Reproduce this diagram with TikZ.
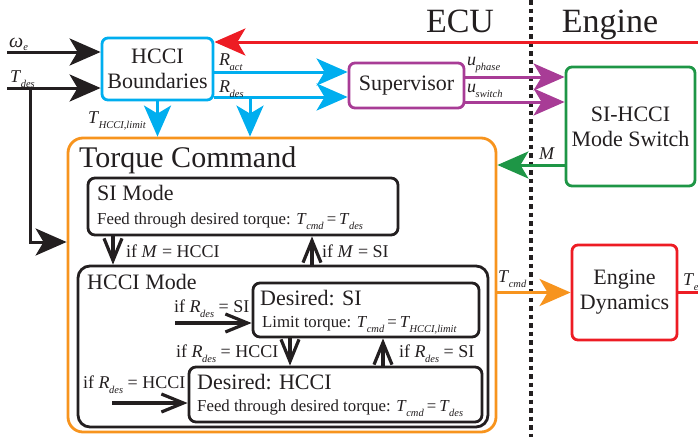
\documentclass[tikz,border=0pt]{standalone}
\usepackage{fontspec}
\setmainfont{Liberation Serif}
\usetikzlibrary{arrows.meta}
\definecolor{ccyan}{RGB}{0,174,239}
\definecolor{cred}{RGB}{237,28,36}
\definecolor{cpurp}{RGB}{168,60,150}
\definecolor{cgreen}{RGB}{30,150,70}
\definecolor{corange}{RGB}{247,148,30}
\definecolor{cblk}{RGB}{35,31,32}
\newcommand\ms[2]{\textit{#1}\kern-0.5pt\raisebox{-5pt}{\fontsize{10.5}{10.5}\selectfont\textit{#2}}}
\newcommand\eqs{\kern3pt=\kern3pt}
\begin{document}
\begin{tikzpicture}[x=1pt,y=-1pt,
  blockbox/.style={draw, line width=2.8pt, rounded corners=6pt, align=center, inner sep=0pt, font=\fontsize{22}{25}\selectfont, text=cblk},
  statebox/.style={draw=cblk, line width=2.8pt, rounded corners=7pt, inner sep=0pt},
  fat/.style={line width=3pt, -{Stealth[length=31pt,width=27pt,inset=8pt]}},
  openarr/.style={draw=cblk, line width=3.2pt, -{Straight Barb[length=22pt,width=18pt]}},
  lbl/.style={anchor=base west, inner sep=0pt, font=\fontsize{18}{18}\selectfont, text=cblk},
  hdr/.style={anchor=base west, inner sep=0pt, font=\fontsize{22}{22}\selectfont, text=cblk},
  dsc/.style={anchor=base west, inner sep=0pt, font=\fontsize{16.8}{17}\selectfont, text=cblk}]
\useasboundingbox (0,0) rectangle (698,437);

% region divider
\coordinate (dtop) at (531,0);
\coordinate (dbot) at (531,437);
\draw[cblk, line width=3.5pt, dash pattern=on 4.5pt off 4pt] (dtop) -- (dbot);
\node[anchor=base, inner sep=0pt, font=\fontsize{34}{34}\selectfont, text=cblk] (ecu) at (460,32) {ECU};
\node[anchor=base, inner sep=0pt, font=\fontsize{34}{34}\selectfont, text=cblk] (eng) at (610,32) {Engine};

% blocks
\node[blockbox, draw=ccyan, minimum width=111pt, minimum height=62pt] (hb) at (157.5,69) {HCCI\\Boundaries};
\node[blockbox, draw=cpurp, minimum width=115pt, minimum height=45pt] (sv) at (406.5,85.5) {Supervisor};
\node[blockbox, draw=cgreen, minimum width=129pt, minimum height=119pt] (sw) at (630.5,126.5) {SI-HCCI\\Mode Switch};
\node[blockbox, draw=cred, minimum width=105pt, minimum height=95pt] (ed) at (624.5,292.5) {Engine\\Dynamics};

% torque command container
\node[draw=corange, line width=2.8pt, rounded corners=15pt, minimum width=428pt, minimum height=294pt, inner sep=0pt] (tc) at (282,285) {};
\node[anchor=base west, inner sep=0pt, font=\fontsize{30}{30}\selectfont, text=cblk] (tct) at (79,167) {Torque Command};

\node[statebox, minimum width=310pt, minimum height=57pt] (si) at (243,206.5) {};
\node[hdr] (sit) at (97,200) {SI Mode};
\node[dsc] (sid) at (97,224) {Feed through desired torque: \ms{T}{cmd}\eqs\ms{T}{des}};

\node[statebox, minimum width=410pt, minimum height=161pt, rounded corners=12pt] (hm) at (283,346.5) {};
\node[hdr] (hmt) at (87,289) {HCCI Mode};

\node[statebox, minimum width=226pt, minimum height=54pt] (ds) at (366,310) {};
\node[hdr] (dst) at (260,305) {Desired: SI};
\node[dsc] (dsd) at (262,327) {Limit torque: \ms{T}{cmd}\eqs\ms{T}{HCCI,limit}};

\node[statebox, minimum width=293pt, minimum height=55pt] (dh) at (335.5,394.5) {};
\node[hdr] (dht) at (197,389) {Desired: HCCI};
\node[dsc] (dhd) at (197,411) {Feed through desired torque: \ms{T}{cmd}\eqs\ms{T}{des}};

% inputs
\coordinate (win) at (7,52);
\coordinate (tin) at (7,88);
\coordinate (tj) at (30,88);
\draw[fat, color=cblk] (win) -- (win -| hb.west);
\draw[fat, color=cblk] (tin) -- (tin -| hb.west);
\draw[fat, color=cblk] (tj) |- (tc.west |- 0,242);
\node[lbl, font=\fontsize{20}{20}\selectfont] (lwe) at (9,47) {\textit{ω}\raisebox{-3pt}{\fontsize{10.5}{10.5}\selectfont\textit{e}}};
\node[lbl] (ltd) at (10,82) {\ms{T}{des}};

% red feedback
\coordinate (rin) at (698,42);
\draw[fat, color=cred] (rin) -- (rin -| hb.east);

% cyan
\coordinate (rd) at (250,97);
\draw[fat, color=ccyan] (hb.east |- 0,72) -- (sv.west |- 0,72);
\draw[fat, color=ccyan] (hb.east |- 0,97) -- (sv.west |- 0,97);
\draw[fat, color=ccyan] (hb.south) -- (hb.south |- tc.north);
\draw[fat, color=ccyan] (rd) -- (rd |- tc.north);
\node[lbl] (lra) at (219,65) {\ms{R}{act}};
\node[lbl] (lrd) at (219,92) {\ms{R}{des}};
\node[lbl] (lth) at (88,123) {\ms{T}{HCCI,limit}};

% purple
\draw[fat, color=cpurp] (sv.east |- 0,77) -- (sw.west |- 0,77);
\draw[fat, color=cpurp] (sv.east |- 0,102) -- (sw.west |- 0,102);
\node[lbl] (lup) at (467,65) {\ms{u}{phase}};
\node[lbl] (lus) at (467,92) {\ms{u}{switch}};

% green
\draw[fat, color=cgreen] (sw.west |- 0,165) -- (tc.east |- 0,165);
\node[lbl] (lm) at (539,159) {\textit{M}};

% orange
\draw[fat, color=corange] (tc.east |- ed.west) -- (ed.west);
\node[lbl] (ltc) at (498,282) {\ms{T}{cmd}};

% engine torque out
\coordinate (teout) at (698,292.5);
\draw[cred, line width=3pt] (ed.east) -- (teout);
\node[lbl] (lte) at (683,285) {\ms{T}{e}};

% state transitions
\draw[openarr] (si.south -| 113,0) -- (hm.north -| 113,0);
\draw[openarr] (hm.north -| 312,0) -- (si.south -| 312,0);
\node[lbl] (lmh) at (126,257) {if \textit{M} = HCCI};
\node[lbl] (lms) at (322,257) {if \textit{M} = SI};

\coordinate (dsin) at (175,323);
\coordinate (dhin) at (112,403);
\draw[openarr] (dsin) -- (dsin -| ds.west);
\draw[openarr] (ds.south -| 290,0) -- (dh.north -| 290,0);
\draw[openarr] (dh.north -| 383,0) -- (ds.south -| 383,0);
\draw[openarr] (dhin) -- (dhin -| dh.west);
\node[lbl] (l1) at (174,312) {if \ms{R}{des} = SI};
\node[lbl] (l2) at (176,357) {if \ms{R}{des} = HCCI};
\node[lbl] (l3) at (399,357) {if \ms{R}{des} = SI};
\node[lbl] (l4) at (83,388) {if \ms{R}{des} = HCCI};
\end{tikzpicture}
\end{document}
